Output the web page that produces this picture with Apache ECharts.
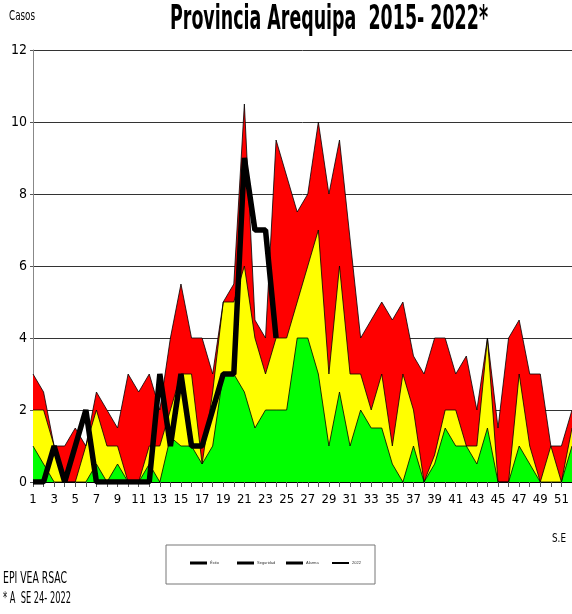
<!DOCTYPE html>
<html>
<head>
<meta charset="utf-8">
<title>Provincia Arequipa 2015-2022</title>
<script src="https://cdn.jsdelivr.net/npm/echarts@6/dist/echarts.min.js"></script>
<style>
  html, body { margin: 0; padding: 0; background: #fff; }
  #chart { width: 572px; height: 614px; }
</style>
</head>
<body>
<div id="chart"></div>
<script>
// semanas epidemiologicas 1..52
var semanas = [];
for (var i = 1; i <= 52; i++) semanas.push(String(i));

// limites del canal endemico (casos)
var alarma = [3, 2.5, 1, 1, 1.5, 1, 2.5, 2, 1.5, 3, 2.5, 3, 2, 4, 5.5, 4, 4, 3, 5, 5.5,
  10.5, 4.5, 4, 9.5, 8.5, 7.5, 8, 10, 8, 9.5, 6.75, 4, 4.5, 5, 4.5, 5, 3.5, 3, 4, 4,
  3, 3.5, 2, 4, 1.5, 4, 4.5, 3, 3, 1, 1, 2];
var seguridad = [2, 2, 1, 0, 0, 1, 2, 1, 1, 0, 0, 1, 1, 2, 3, 3, 0.5, 2.5, 5, 5,
  6, 4, 3, 4, 4, 5, 6, 7, 3, 6, 3, 3, 2, 3, 1, 3, 2, 0, 0.75, 2,
  2, 1, 1, 4, 0, 0, 3, 1, 0, 1, 0, 1.5];
var exito = [1, 0.5, 0, 0, 0, 0, 0.5, 0, 0.5, 0, 0, 0.5, 0, 1.25, 1, 1, 0.5, 1, 3, 3,
  2.5, 1.5, 2, 2, 2, 4, 4, 3, 1, 2.5, 1, 2, 1.5, 1.5, 0.5, 0, 1, 0, 0.5, 1.5,
  1, 1, 0.5, 1.5, 0, 0, 1, 0.5, 0, 0, 0, 1];
// casos 2022 hasta SE 24
var casos2022 = [0, 0, 1, 0, 1, 2, 0, 0, 0, 0, 0, 0, 3, 1, 3, 1, 1, 2, 3, 3,
  9, 7, 7, 4];

var yTicks = { min: 0, max: 12, step: 2 };

var narrow = '"Liberation Sans Narrow", "Arial Narrow", "DejaVu Sans Condensed", sans-serif';

// el original usa una fuente muy estrecha: se comprime el texto al ancho medido
var ctx = document.createElement('canvas').getContext('2d');
function fitText(text, font, left, top, width) {
  ctx.font = font;
  var w = ctx.measureText(text).width;
  return {
    type: 'text', x: left, y: top, scaleX: width / w, silent: true,
    style: { text: text, font: font, fill: '#000', textVerticalAlign: 'top' }
  };
}

function areaSerie(name, data, color) {
  return {
    name: name,
    type: 'line',
    data: data,
    symbol: 'none',
    silent: true,
    lineStyle: { color: '#000', width: 0.8 },
    areaStyle: { color: color, opacity: 1 }
  };
}

function legendItem(name, left, h) {
  return {
    data: [{ name: name, icon: 'rect', itemStyle: { color: '#000', borderWidth: 0 } }],
    left: left,
    top: 561,
    padding: 0,
    itemWidth: 17,
    itemHeight: h,
    itemGap: 2,
    selectedMode: false,
    textStyle: { fontSize: 4, color: '#333', padding: [0, 0, 0, -2] }
  };
}

var chart = echarts.init(document.getElementById('chart'));
chart.setOption({
  backgroundColor: '#fff',
  animation: false,
  grid: { left: 33, top: 50, width: 544, height: 432 },
  legend: [
    legendItem('Éxito', 190, 3),
    legendItem('Seguridad', 237, 3),
    legendItem('Alarma', 286, 3),
    legendItem('2022', 332, 2)
  ],
  xAxis: {
    type: 'category',
    data: semanas,
    boundaryGap: false,
    axisLine: { lineStyle: { color: '#000', width: 1 } },
    axisTick: { show: true, interval: 0, length: 5, lineStyle: { color: '#555' } },
    axisLabel: { interval: 1, fontSize: 13, margin: 11, color: '#000', fontFamily: narrow },
    splitLine: { show: false }
  },
  yAxis: {
    type: 'value',
    min: yTicks.min,
    max: yTicks.max,
    interval: yTicks.step,
    axisLine: { show: true, lineStyle: { color: '#888' } },
    axisTick: { show: true, length: 3, lineStyle: { color: '#555' } },
    axisLabel: { fontSize: 14, margin: 6, color: '#000', fontFamily: narrow },
    splitLine: { lineStyle: { color: '#333', width: 1 } }
  },
  series: [
    areaSerie('Alarma', alarma, '#ff0000'),
    areaSerie('Seguridad', seguridad, '#ffff00'),
    areaSerie('Éxito', exito, '#00ff00'),
    {
      name: '2022',
      type: 'line',
      data: casos2022,
      symbol: 'none',
      silent: true,
      lineStyle: { color: '#000', width: 5.5 },
      z: 5
    }
  ],
  graphic: [
    fitText('Provincia Arequipa  2015- 2022*', 'bold 33px ' + narrow, 170, 4, 318),
    fitText('Casos', '14px ' + narrow, 9, 9, 26),
    fitText('S.E', '13px ' + narrow, 552, 532, 14),
    fitText('EPI VEA RSAC', '16px ' + narrow, 3, 571, 64),
    fitText('* A  SE 24- 2022', '16px ' + narrow, 3, 591, 68),
    {
      type: 'rect', silent: true,
      shape: { x: 166, y: 545, width: 209, height: 39 },
      style: { fill: 'none', stroke: '#777', lineWidth: 1 }
    }
  ]
});
</script>
</body>
</html>
